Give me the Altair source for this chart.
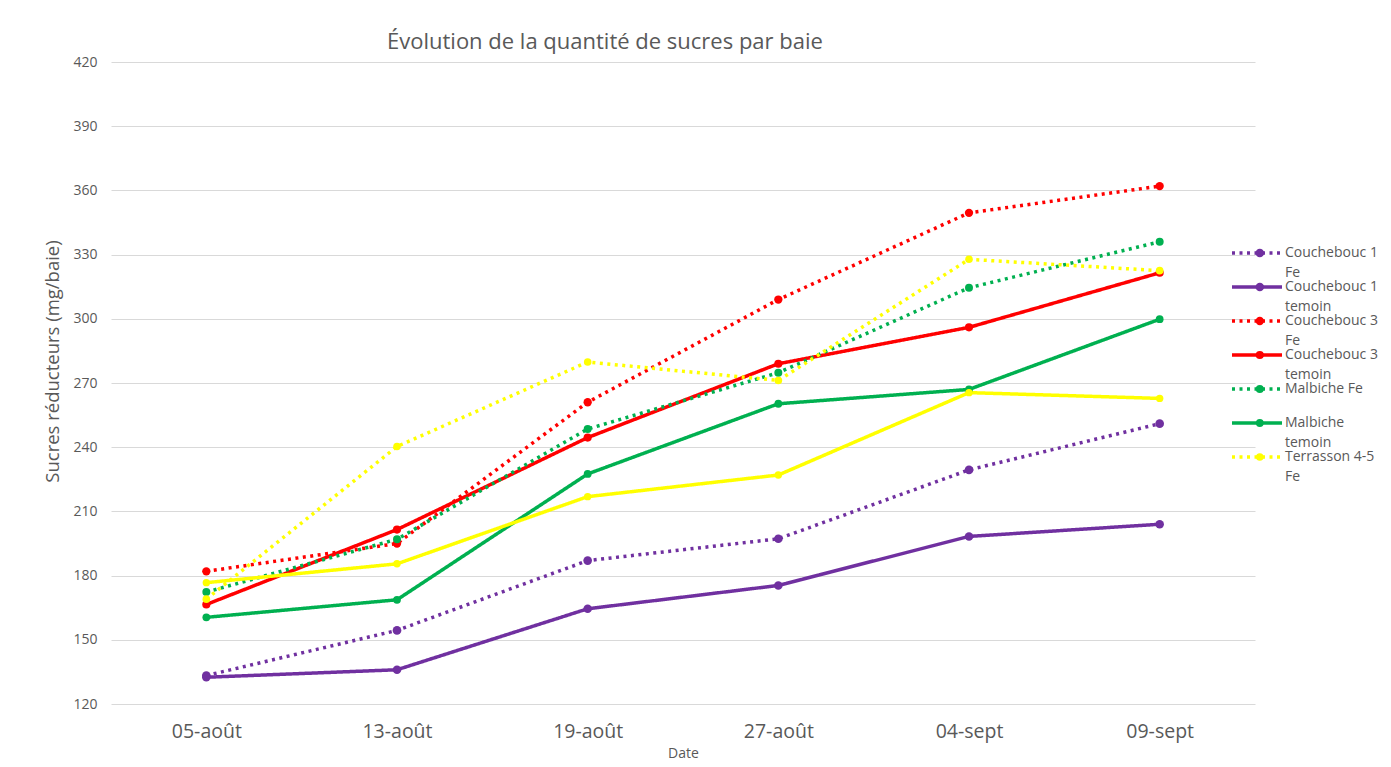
import altair as alt
import pandas as pd

dates = ["05-août", "13-août", "19-août", "27-août", "04-sept", "09-sept"]

series_names = [
    "Couchebouc 1 Fe",
    "Couchebouc 1 temoin",
    "Couchebouc 3 Fe",
    "Couchebouc 3 temoin",
    "Malbiche Fe",
    "Malbiche temoin",
    "Terrasson 4-5 Fe",
    "Terrasson 4-5 temoin",
]

couchebouc1_fe = [133.3, 154.4, 187.0, 197.2, 229.4, 251.0]
couchebouc1_temoin = [132.5, 136.0, 164.5, 175.4, 198.3, 204.0]
couchebouc3_fe = [182.0, 195.0, 261.0, 309.0, 349.5, 362.0]
couchebouc3_temoin = [166.5, 201.5, 244.5, 279.0, 296.0, 321.5]
malbiche_fe = [172.3, 197.0, 248.5, 274.8, 314.5, 336.0]
malbiche_temoin = [160.5, 168.7, 227.5, 260.3, 267.0, 299.8]
terrasson_fe = [169.0, 240.3, 279.8, 271.2, 327.8, 322.5]
terrasson_temoin = [176.7, 185.5, 216.9, 227.0, 265.5, 262.8]

all_values = [
    couchebouc1_fe, couchebouc1_temoin, couchebouc3_fe, couchebouc3_temoin,
    malbiche_fe, malbiche_temoin, terrasson_fe, terrasson_temoin,
]

colors = ["#7030A0", "#7030A0", "#FF0000", "#FF0000",
          "#00B050", "#00B050", "#FFFF00", "#FFFF00"]
dots = [3, 4.5]
solid = [1, 0]
dashes = [dots, solid, dots, solid, dots, solid, dots, solid]
marker_sizes = [75, 55, 75, 55, 75, 55, 75, 55]

y_ticks = [120, 150, 180, 210, 240, 270, 300, 330, 360, 390, 420]

rows = []
for name, vals in zip(series_names, all_values):
    for d, v in zip(dates, vals):
        rows.append({"date": d, "serie": name, "serie_pt": name, "value": v})
df = pd.DataFrame(rows)

FONT = "Open Sans"
GREY = "#595959"

label_expr = ("datum.label == 'Malbiche Fe' ? ['Malbiche Fe', ' '] : "
              "[substring(datum.label, 0, lastindexof(datum.label, ' ')), "
              "substring(datum.label, lastindexof(datum.label, ' ') + 1)]")

legend_common = dict(
    orient="none",
    title=None,
    values=series_names[:7],
    labelFont=FONT,
    labelFontSize=14,
    labelColor=GREY,
    labelLimit=200,
    rowPadding=0,
    padding=0,
    legendY=184,
)

# long horizontal stroke drawn from a small nominal symbol size
stroke_path = "M-5,0L5,0"

line_legend = alt.Legend(
    legendX=1139,
    symbolType=stroke_path, symbolSize=100, symbolStrokeWidth=3.5,
    labelOffset=21, zindex=1, labelExpr=label_expr,
    **legend_common,
)

marker_legend = alt.Legend(
    legendX=1141.8, symbolType="circle", symbolSize=70, symbolStrokeWidth=0,
    symbolOpacity=1, labelOpacity=0, zindex=2, labelExpr="[' ', ' ']",
    **legend_common,
)

x_enc = alt.X(
    "date:N", sort=dates, title="Date",
    axis=alt.Axis(labelAngle=0, labelFontSize=19.5, labelColor=GREY, labelFont=FONT,
                  labelPadding=18, domain=False, ticks=False, grid=False,
                  titleFontSize=14, titleFontWeight="normal", titleColor=GREY,
                  titleFont=FONT, titlePadding=6),
)
y_enc = alt.Y(
    "value:Q", title="Sucres réducteurs (mg/baie)",
    scale=alt.Scale(domain=[120, 420], nice=False, zero=False),
    axis=alt.Axis(values=y_ticks, grid=True, gridColor="#D9D9D9", gridWidth=1,
                  domain=False, ticks=False, labelPadding=14, labelFontSize=14,
                  labelColor=GREY, labelFont=FONT, titleFontSize=18.5,
                  titleFontWeight="normal", titleColor=GREY, titleFont=FONT,
                  titlePadding=10, titleY=299),
)

lines = alt.Chart(df).mark_line(strokeWidth=3.5).encode(
    x=x_enc,
    y=y_enc,
    stroke=alt.Stroke("serie:N", scale=alt.Scale(domain=series_names, range=colors),
                      legend=line_legend),
    strokeDash=alt.StrokeDash("serie:N", scale=alt.Scale(domain=series_names, range=dashes),
                              legend=line_legend),
    detail="serie:N",
)

points = alt.Chart(df).mark_point(filled=True, opacity=1).encode(
    x=alt.X("date:N", sort=dates),
    y=alt.Y("value:Q"),
    color=alt.Color("serie_pt:N",
                    scale=alt.Scale(domain=series_names[::-1], range=colors[::-1]),
                    legend=marker_legend),
    size=alt.Size("serie_pt:N",
                  scale=alt.Scale(domain=series_names[::-1], range=marker_sizes[::-1]),
                  legend=None),
)

chart = (
    alt.layer(lines, points)
    .properties(
        width=1144,
        height=642,
        title=alt.TitleParams(
            "Évolution de la quantité de sucres par baie",
            anchor="start", frame="group", dx=276, fontSize=22, font=FONT,
            fontWeight="normal", color=GREY, offset=1,
        ),
        autosize=alt.AutoSizeParams(type="none"),
        padding={"left": 103, "top": 54, "right": 128, "bottom": 60},
    )
    .configure(font=FONT, style={"guide-label": {"lineHeight": 20}})
    .configure_view(stroke=None)
)

chart.save("out.html", embed_options={"renderer": "svg", "actions": False})
